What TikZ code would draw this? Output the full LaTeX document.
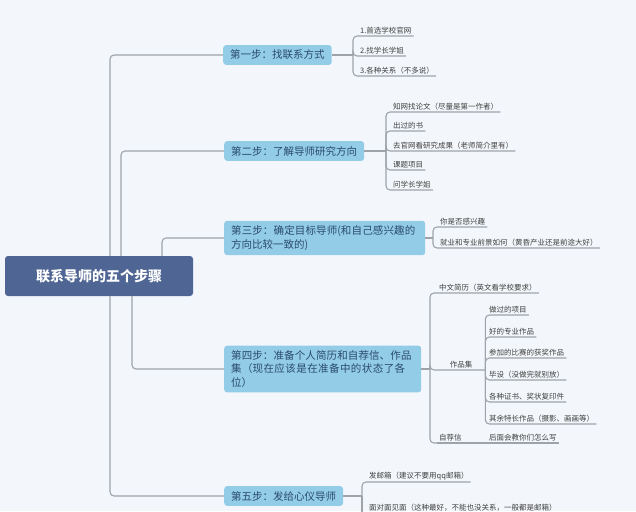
\documentclass[tikz,border=0pt]{standalone}
\usepackage{fontspec}
\setmainfont{Noto Sans CJK SC}
\XeTeXlinebreaklocale "zh"
\XeTeXlinebreakskip=0pt plus 1pt
\definecolor{bgc}{HTML}{F3F7FB}
\definecolor{rootc}{HTML}{4F6593}
\definecolor{stepc}{HTML}{93CCE6}
\definecolor{steptxt}{HTML}{2A4B6E}
\definecolor{linec}{HTML}{9EA3AA}
\begin{document}
\begin{tikzpicture}[x=1pt,y=-1pt,
  ln/.style={draw=linec, line width=1.1pt, rounded corners=4},
  stepbox/.style={fill=stepc, rounded corners=3, text=steptxt, font=\fontsize{10.5}{13.5}\selectfont, inner xsep=7, inner ysep=5, align=left},
  leaf/.style={font=\fontsize{7.5}{10}\selectfont, text=black!75, inner xsep=2, inner ysep=2, anchor=south west, align=left}]
\fill[bgc] (0,0) rectangle (636,511);
\useasboundingbox (0,0) rectangle (636,511);
\node[fill=rootc, rounded corners=3, text=white, font=\fontsize{14}{16}\selectfont\bfseries, minimum width=188, minimum height=40] (root) at (99,276) {联系导师的五个步骤};
\node[stepbox, anchor=west] (s1) at (223,55) {第一步：找联系方式};
\node[stepbox, anchor=west] (s2) at (224,151) {第二步：了解导师研究方向};
\node[stepbox, anchor=west, text width=187] (s3) at (224,238) {第三步：确定目标导师(和自己感兴趣的方向比较一致的)};
\node[stepbox, anchor=west, text width=183] (s4) at (224,369) {第四步：准备个人简历和自荐信、作品集（现在应该是在准备中的状态了各位）};
\node[stepbox, anchor=west] (s5) at (224,496) {第五步：发给心仪导师};
% root connectors
\draw[ln] (110,256) |- (s1.west);
\draw[ln] (110,296) |- (s5.west);
\draw[ln] (121,256) |- (s2.west);
\draw[ln] (162,256) |- (s3.west);
\draw[ln] (132,296) |- (s4.west);
% step1 leaves
\node[leaf] (a1) at (358,36) {1.首选学校官网};
\node[leaf] (a2) at (358,56) {2.找学长学姐};
\node[leaf] (a3) at (358,76) {3.各种关系（不多说）};
\draw[ln] (s1.east) -- (353,55);
\foreach \n in {a1,a2,a3} \draw[ln] (353,55) |- (\n.south east);
% step2
\node[leaf] (b1) at (391,112) {知网找论文（尽量是第一作者）};
\node[leaf] (b2) at (391,131) {出过的书};
\node[leaf] (b3) at (391,151) {去官网看研究成果（老师简介里有）};
\node[leaf] (b4) at (391,170) {课题项目};
\node[leaf] (b5) at (391,190) {问学长学姐};
\draw[ln] (s2.east) -- (386,151);
\foreach \n in {b1,b2,b3,b4,b5} \draw[ln] (386,151) |- (\n.south east);
% step3
\node[leaf] (c1) at (438,227) {你是否感兴趣};
\node[leaf] (c2) at (438,248) {就业和专业前景如何（黄昏产业还是前途大好）};
\draw[ln] (s3.east) -- (433,238);
\foreach \n in {c1,c2} \draw[ln] (433,238) |- (\n.south east);
% step4
\node[leaf] (d1) at (437,293) {中文简历（英文看学校要求）};
\node[leaf, minimum width=48] (d2) at (437,370) {作品集};
\node[leaf] (d3) at (437,443) {自荐信};
\draw[ln] (s4.east) -- (430,369);
\foreach \n in {d1,d2} \draw[ln] (430,369) |- (\n.south east);
\draw[ln] (430,369) |- (d3.south west);
\node[leaf] (e1) at (487,315) {做过的项目};
\node[leaf] (e2) at (487,337) {好的专业作品};
\node[leaf] (e3) at (487,358) {参加的比赛的获奖作品};
\node[leaf] (e4) at (487,380) {毕设（没做完就别放）};
\node[leaf] (e5) at (487,402) {各种证书、奖状复印件};
\node[leaf] (e6) at (487,424) {其余特长作品（摄影、画画等）};
\foreach \n in {e1,e2,e3,e4,e5,e6} \draw[ln] (d2.south east) |- (\n.south east);
\node[leaf] (f1) at (487,443) {后面会教你们怎么写};
\draw[ln] (d3.south west) -- (f1.south east);
% step5
\node[leaf] (g1) at (367,482) {发邮箱（建议不要用qq邮箱）};
\node[leaf, text width=232] (g2) at (367,513) {面对面见面（这种最好，不能也没关系，一般都是邮箱）};
\draw[ln] (s5.east) -- (362,496);
\draw[ln] (362,496) |- (g1.south east);
\draw[ln] (362,496) -- (362,512);
\end{tikzpicture}
\end{document}
